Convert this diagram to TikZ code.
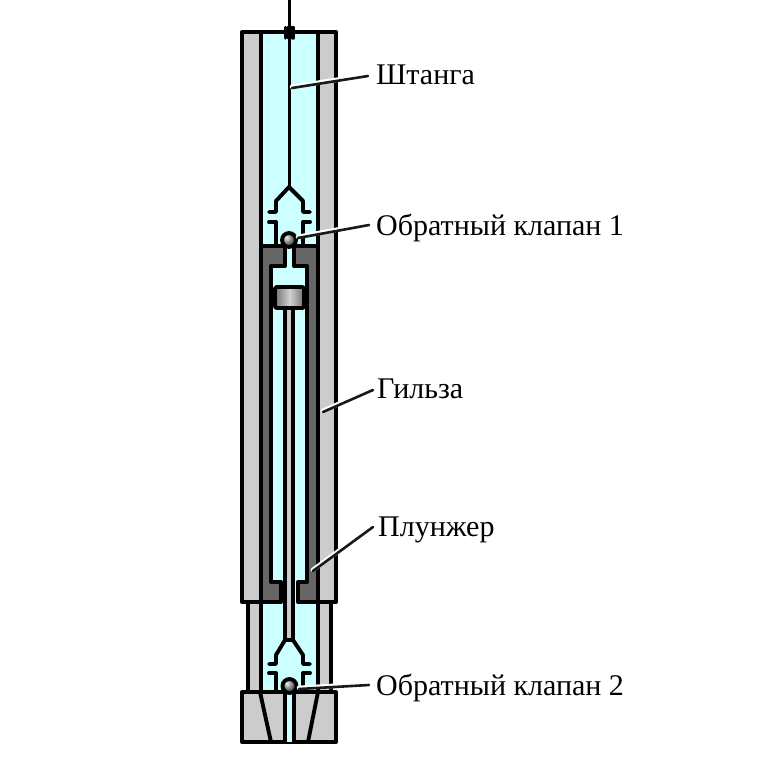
\documentclass[tikz,border=0pt]{standalone}
\usepackage{fontspec}
\setmainfont{Liberation Serif}
\tikzset{
 ln/.style={line width=3.9pt,line join=round,line cap=round,black},
 lbl/.style={anchor=base west,inner sep=0pt,font=\fontsize{30}{30}\selectfont,text=black},
 halo/.style={line width=4.5pt,white,line cap=round},
 lead/.style={line width=2.6pt,black!90,line cap=round}
}
\definecolor{wall}{RGB}{204,204,204}
\definecolor{dark}{RGB}{102,102,102}
\definecolor{fluid}{RGB}{204,255,255}
\begin{document}
\begin{tikzpicture}[x=1pt,y=-1pt]
\useasboundingbox (0,0) rectangle (780,780);
% fluid
\fill[fluid] (261,32) rectangle (318,692);
% upper walls
\draw[ln,fill=wall] (261,602) -- (242,602) -- (242,32) -- (261,32) -- cycle;
\draw[ln,fill=wall] (318,602) -- (336,602) -- (336,32) -- (318,32) -- cycle;
\draw[ln] (261,32) -- (318,32);
% lower walls
\draw[ln,fill=wall] (248,602) rectangle (261,692);
\draw[ln,fill=wall] (318,602) rectangle (331,692);
% sleeve
\draw[ln,fill=dark] (261,602) -- (261,246) -- (285,246) -- (285,266) -- (271,266) -- (271,582) -- (281,582) -- (281,602) -- cycle;
\draw[ln,fill=dark] (318,602) -- (318,246) -- (294,246) -- (294,266) -- (307,266) -- (307,582) -- (298,582) -- (298,602) -- cycle;
% base block
\draw[ln,fill=wall] (242,692) rectangle (336,742);
\fill[fluid] (285,692) rectangle (294,742);
\draw[ln] (260,692) -- (271,742) (318,692) -- (308,742) (285,692) -- (285,742) (294,692) -- (294,742);
% rod top
\draw[line width=3pt,black] (289,0) -- (289,187);
\draw[line width=3.5pt,line cap=round,black] (285.5,27.5) -- (285.5,38) (293,27.5) -- (293,38);
\draw[line width=5pt,black] (289.2,26) -- (289.2,39);
% upper cage
\draw[ln] (269,212) -- (276,212) -- (276,201) -- (289,187) -- (303,201) -- (303,212) -- (310,212);
\draw[ln] (269,222) -- (276,222) -- (276,245) (310,222) -- (303,222) -- (303,245);
% lower rod
\draw[line width=3.6pt,line join=round,black,fill=wall] (284.7,308) -- (284.7,640) -- (293,640) -- (293,308);
% lower cage
\draw[ln] (269,664) -- (276,664) -- (276,655) -- (285,640) (293,640) -- (303,655) -- (303,664) -- (310,664);
\draw[ln] (269,673) -- (276,673) -- (276,692) (310,673) -- (303,673) -- (303,692);
% piston
\draw[ln,rounded corners=1.5pt,left color=black!55,right color=black!55,middle color=black!18] (275,287) rectangle (304,308);
% balls
\shade[ball color=black!40,draw=black,line width=3.8pt] (289,240) circle (7);
\shade[ball color=black!40,draw=black,line width=3.8pt] (289.5,686) circle (7);
% labels
\node[lbl] (a) at (376,84) {Штанга};
\node[lbl] (b) at (376,235) {Обратный клапан 1};
\node[lbl] (c) at (377,398) {Гильза};
\node[lbl] (d) at (378,536) {Плунжер};
\node[lbl] (e) at (376,695) {Обратный клапан 2};
% leaders
\coordinate (a0) at (292,88); \coordinate (a1) at (368,76);
\coordinate (b0) at (298,238); \coordinate (b1) at (369,225);
\coordinate (c0) at (323,412); \coordinate (c1) at (373,390);
\coordinate (d0) at (313,571); \coordinate (d1) at (373,527);
\coordinate (e0) at (299,689); \coordinate (e1) at (369,685);
\foreach \p/\q in {a0/a1,b0/b1,c0/c1,d0/d1,e0/e1}{
 \draw[halo] ([yshift=1.2pt]\p) -- ([yshift=1.2pt]\q);
 \draw[lead] (\p) -- (\q);
}
\end{tikzpicture}
\end{document}
